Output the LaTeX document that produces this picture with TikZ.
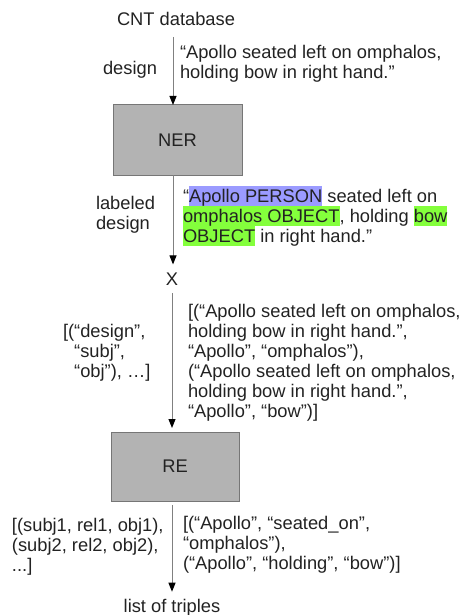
\documentclass[tikz,border=0pt]{standalone}
\usepackage{fontspec}
\setmainfont{Liberation Sans}
\usetikzlibrary{arrows.meta}
\definecolor{txt}{HTML}{222222}
\definecolor{boxfill}{HTML}{B3B3B3}
\definecolor{boxline}{HTML}{767676}
\definecolor{arrline}{HTML}{808080}
\definecolor{hlblue}{HTML}{9B9BFF}
\definecolor{hlgreen}{HTML}{84FF3C}
\newcommand\hl[2]{{\setlength\fboxsep{0pt}\colorbox{#1}{\rule[-4pt]{0pt}{20pt}#2}}}
\newcommand\stk[1]{\vtop{\baselineskip=20pt\lineskiplimit=-100pt\lineskip=0pt\halign{##\hfil\cr#1\crcr}}}
\tikzset{
  every node/.style={font=\fontsize{18.3}{20}\selectfont, text=txt, inner sep=0pt, outer sep=0pt},
  procbox/.style={draw=boxline, fill=boxfill, line width=1pt, minimum width=129pt, minimum height=70pt},
  conn/.style={draw=arrline, line width=1pt, -{Triangle[length=9pt,width=7pt,black]}},
}
\begin{document}
\begin{tikzpicture}[x=1pt,y=-1pt]
\useasboundingbox (0,0) rectangle (462,615);
\coordinate (ax) at (173,0);
\coordinate (bx) at (172,0);
% nodes
\node[anchor=base] (cnt) at (176,26) {CNT database};
\node[anchor=base] (designlbl) at (130,75) {design};
\node[anchor=base west] (q1) at (180,59) {\stk{“Apollo seated left on omphalos,\cr holding bow in right hand.”}};
\node[procbox] (ner) at (177.5,140) {NER};
\node[anchor=base west] (labdes) at (96,209) {\stk{labeled\cr design}};
\node[anchor=base west] (q2) at (183,202) {\stk{“\hl{hlblue}{Apollo PERSON} seated left on\cr \hl{hlgreen}{omphalos OBJECT}, holding \hl{hlgreen}{bow}\cr \hl{hlgreen}{OBJECT} in right hand.”}};
\node[anchor=base] (x) at (172,285) {X};
\node[anchor=base west] (l3) at (63,337) {\stk{[(“design”,\cr \phantom{[(}“subj”,\cr \phantom{[(}“obj”), …]}};
\node[anchor=base west] (r3) at (188,317) {\stk{[(“Apollo seated left on omphalos,\cr holding bow in right hand.”,\cr “Apollo”, “omphalos”),\cr (“Apollo seated left on omphalos,\cr holding bow in right hand.”,\cr “Apollo”, “bow”)]}};
\node[procbox, minimum width=128pt, minimum height=69pt] (re) at (175,466.5) {RE};
\node[anchor=base west] (l4) at (12,531) {\stk{[(subj1, rel1, obj1),\cr (subj2, rel2, obj2),\cr ...]}};
\node[anchor=base west] (r4) at (183,529) {\stk{[(“Apollo”, “seated\_on”,\cr “omphalos”),\cr (“Apollo”, “holding”, “bow”)]}};
\node[anchor=base] (triples) at (172,612) {list of triples};
% connectors
\draw[conn] ([yshift=-11pt]cnt.base -| ax) -- (ner.north -| ax);
\draw[conn] (ner.south -| ax) -- ([yshift=8pt]x.north -| ax);
\draw[conn] ([yshift=-8pt]x.south -| bx) -- ([yshift=4pt]re.north -| bx);
\draw[conn] ([yshift=-4pt]re.south -| bx) -- ([yshift=7pt]triples.north -| bx);
\end{tikzpicture}
\end{document}
